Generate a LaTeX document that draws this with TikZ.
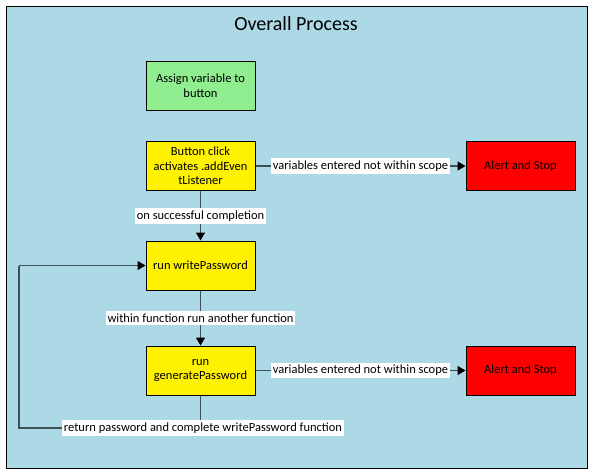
\documentclass[tikz,border=0pt]{standalone}
\usepackage{fontspec}
\setmainfont{Carlito}
\usetikzlibrary{arrows.meta}
\definecolor{bgblue}{HTML}{ADD8E6}
\definecolor{lgreen}{HTML}{90EE90}
\definecolor{lineg}{HTML}{3E4E55}
\begin{document}
\begin{tikzpicture}[x=1pt,y=-1pt,
  box/.style={draw=black,line width=1pt,minimum width=109pt,minimum height=49pt,align=center,font=\fontsize{12.5}{14.5}\selectfont,inner sep=0pt},
  conn/.style={draw=lineg,line width=1.4pt},
  arr/.style={conn,-{Triangle[length=8pt,width=9pt,color=black]}},
  lbl/.style={fill=white,font=\fontsize{12.5}{14}\selectfont,inner xsep=2pt,inner ysep=2.5pt,text=black}]
\useasboundingbox (0,0) rectangle (593,474);
\fill[white] (0,0) rectangle (593,474);
\draw[fill=bgblue,line width=1pt] (6,6) rectangle (587,468);
\node[font=\fontsize{20}{22}\selectfont] (title) at (296,24) {Overall Process};
\node[box,fill=lgreen] (assign) at (200.5,85.5) {Assign variable to\\button};
\node[box,fill=yellow] (click) at (200.5,166) {Button click\\activates .addEven\\tListener};
\node[box,fill=yellow] (write) at (200.5,265.5) {run writePassword};
\node[box,fill=yellow] (gen) at (200.5,370.5) {run\\generatePassword};
\node[box,fill=red] (alert1) at (520.5,166) {Alert and Stop};
\node[box,fill=red] (alert2) at (520.5,370.5) {Alert and Stop};
\coordinate (c1) at (19,428);
\coordinate (c2) at (19,265.5);
\coordinate (c3) at (200.5,428);
\draw[arr] (click) -- node[lbl]{on successful completion} (write);
\draw[arr] (write) -- node[lbl]{within function run another function} (gen);
\draw[arr] (click) -- node[lbl,pos=0.5]{variables entered not within scope} (alert1);
\draw[arr] (gen) -- node[lbl,pos=0.5]{variables entered not within scope} (alert2);
\draw[conn] (gen) -- (c3) -- (c1) -- (c2);
\draw[arr] (c2) -- (write);
\node[lbl] (retlbl) at (203,428) {return password and complete writePassword function};
\end{tikzpicture}
\end{document}
